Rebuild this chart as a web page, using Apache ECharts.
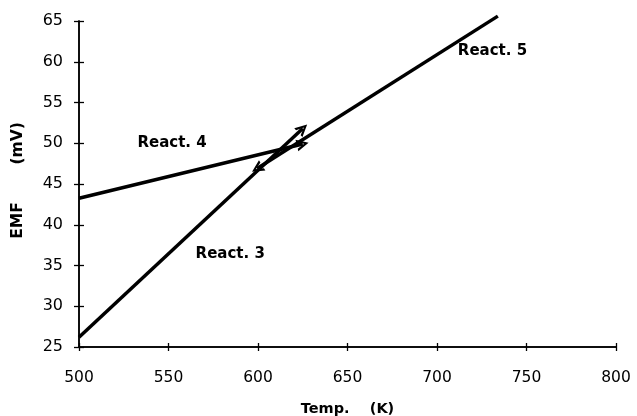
<!DOCTYPE html>
<html>
<head>
<meta charset="utf-8">
<script src="https://cdn.jsdelivr.net/npm/echarts@6/dist/echarts.min.js"></script>
<style>
  html, body { margin: 0; padding: 0; background: #fff; }
  #chart { width: 637px; height: 416px; }
</style>
</head>
<body>
<div id="chart"></div>
<script>
// values (temperature K, EMF mV)
const react3X = [500, 625];
const react3Y = [26.2, 51.8];
const react4X = [500, 625];
const react4Y = [43.25, 49.9];
// react 5 drawn from upper right down to the arrow end
const react5X = [734, 599.5];
const react5Y = [65.6, 46.9];

const labelNames = ['React. 4', 'React. 3', 'React. 5'];
const labelX = [552, 584.5, 731];
const labelY = [50.05, 36.4, 61.3];

const xTicks = [500, 550, 600, 650, 700, 750, 800];
const yTicks = [25, 30, 35, 40, 45, 50, 55, 60, 65];

const chart = echarts.init(document.getElementById('chart'));

// open chevron pointing up, rotated by the lines series
const arrowPath = 'path://M5,0 L10,12 L7.8,12 L5,4.5 L2.2,12 L0,12 Z';

function seg(xs, ys) {
  return { coords: [[xs[0], ys[0]], [xs[1], ys[1]]] };
}

const tickStyle = { color: '#000', width: 1.3 };
const lineAxis = { show: true, onZero: false, lineStyle: { color: '#000', width: 1.5 } };
const gridBox = { left: 79, right: 21, top: 21, bottom: 69, outerBoundsMode: 'none' };

// second grid on top of the first only carries the inward half of each tick
chart.setOption({
  animation: false,
  backgroundColor: '#fff',
  grid: [Object.assign({}, gridBox), Object.assign({}, gridBox)],
  xAxis: [
    {
      type: 'value',
      gridIndex: 0,
      min: xTicks[0], max: xTicks[xTicks.length - 1], interval: 50,
      name: 'Temp.    (K)',
      nameLocation: 'middle',
      nameGap: 55,
      nameTextStyle: { fontFamily: 'DejaVu Sans', fontWeight: 'bold', fontSize: 14.5, color: '#000' },
      axisLine: lineAxis,
      splitLine: { show: false },
      axisTick: { show: true, inside: false, length: 4, lineStyle: tickStyle },
      axisLabel: { fontFamily: 'DejaVu Sans', fontSize: 15.5, color: '#000', margin: 23 }
    },
    {
      type: 'value',
      gridIndex: 1,
      min: xTicks[0], max: xTicks[xTicks.length - 1], interval: 50,
      axisLine: lineAxis,
      splitLine: { show: false },
      axisTick: { show: true, inside: true, length: 4, lineStyle: tickStyle },
      axisLabel: { show: false }
    }
  ],
  yAxis: [
    {
      type: 'value',
      gridIndex: 0,
      min: yTicks[0], max: yTicks[yTicks.length - 1], interval: 5,
      name: 'EMF       (mV)',
      nameLocation: 'middle',
      nameGap: 53,
      nameTextStyle: { fontFamily: 'DejaVu Sans', fontWeight: 'bold', fontSize: 15.5, color: '#000', padding: [0, 0, 0, 7] },
      axisLine: lineAxis,
      splitLine: { show: false },
      axisTick: { show: true, inside: false, length: 5, lineStyle: tickStyle },
      axisLabel: { fontFamily: 'DejaVu Sans', fontSize: 16, color: '#000', margin: 16 }
    },
    {
      type: 'value',
      gridIndex: 1,
      min: yTicks[0], max: yTicks[yTicks.length - 1], interval: 5,
      axisLine: lineAxis,
      splitLine: { show: false },
      axisTick: { show: true, inside: true, length: 5, lineStyle: tickStyle },
      axisLabel: { show: false }
    }
  ],
  series: [
    {
      type: 'lines',
      coordinateSystem: 'cartesian2d',
      xAxisIndex: 0, yAxisIndex: 0,
      clip: false,
      symbol: ['none', arrowPath],
      symbolSize: [9, 12],
      lineStyle: { color: '#000', width: 3.5, opacity: 1 },
      data: [seg(react3X, react3Y), seg(react4X, react4Y), seg(react5X, react5Y)]
    },
    {
      type: 'scatter',
      xAxisIndex: 1, yAxisIndex: 1,
      symbolSize: 0,
      silent: true,
      itemStyle: { color: '#000', opacity: 1 },
      label: {
        show: true,
        position: 'inside',
        formatter: p => p.name,
        fontFamily: 'DejaVu Sans',
        fontWeight: 'bold',
        fontSize: 15,
        color: '#000',
        opacity: 1,
        textBorderWidth: 0
      },
      data: labelNames.map((n, i) => ({ name: n, value: [labelX[i], labelY[i]] }))
    }
  ]
});
</script>
</body>
</html>
